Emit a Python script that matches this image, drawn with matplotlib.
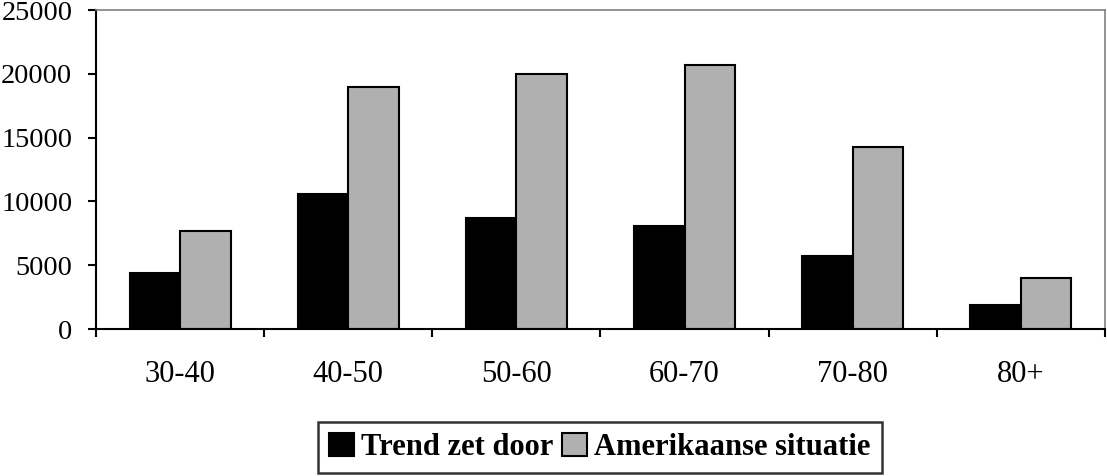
import numpy as np
import matplotlib
matplotlib.use("Agg")
import matplotlib.pyplot as plt
from matplotlib.ticker import FixedLocator

categories = ["30-40", "40-50", "50-60", "60-70", "70-80", "80+"]
trend_zet_door = [4400, 10600, 8700, 8100, 5700, 1850]
amerikaanse_situatie = [7700, 19000, 20000, 20700, 14250, 4000]
series_names = ["Trend zet door", "Amerikaanse situatie"]
y_ticks = [0, 5000, 10000, 15000, 20000, 25000]

plt.rcParams['font.family'] = ['Liberation Serif', 'DejaVu Serif']

fig = plt.figure(figsize=(11.07, 4.76), dpi=100)
ax = fig.add_axes([0.0867, 0.3088, 0.9115, 0.670])

x = np.arange(len(categories))
w = 0.3
ax.bar(x - w / 2, trend_zet_door, w, color='black', edgecolor='black',
       linewidth=1.5, label=series_names[0])
ax.bar(x + w / 2, amerikaanse_situatie, w, color='#b0b0b0', edgecolor='black',
       linewidth=1.5, label=series_names[1])

ax.set_xlim(-0.5, len(categories) - 0.5)
ax.set_ylim(0, 25000)
ax.set_yticks(y_ticks)
ax.set_xticks(x)
ax.set_xticklabels(categories)
ax.xaxis.set_minor_locator(FixedLocator(np.arange(len(categories) + 1) - 0.5))

# y labels sized so "25000" just fits at the left edge
ax.tick_params(axis='y', direction='out', length=6, width=1.5, pad=11, labelsize=20.3)
ax.tick_params(axis='x', which='major', length=0, pad=22, labelsize=22)
ax.tick_params(axis='x', which='minor', direction='out', length=6, width=1.5)

for s in ['left', 'bottom']:
    ax.spines[s].set_linewidth(1.5)
    ax.spines[s].set_color('black')
for s in ['top', 'right']:
    ax.spines[s].set_linewidth(1.2)
    ax.spines[s].set_color('#808080')

leg = fig.legend(loc='center', bbox_to_anchor=(0.5416, 0.060), ncol=2,
                 frameon=True, fancybox=False, prop={'weight': 'bold', 'size': 22},
                 handlelength=0.82, handleheight=0.82, handletextpad=0.23,
                 columnspacing=0.3, borderpad=0.36)
leg.get_frame().set_edgecolor('black')
leg.get_frame().set_linewidth(1.8)

fig.savefig('out.png', dpi=100)
